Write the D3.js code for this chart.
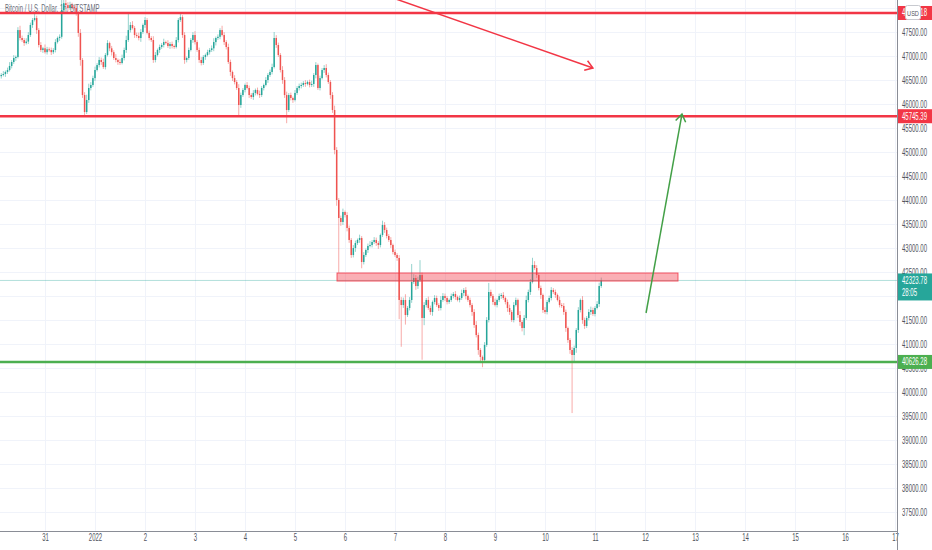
<!DOCTYPE html>
<html>
<head>
<meta charset="utf-8">
<script src="https://cdn.jsdelivr.net/npm/d3@7"></script>
<style>
  body { margin: 0; background: #fff; }
  svg { display: block; }
  .axis text { fill: #50535e; font-family: "Liberation Sans", Arial, sans-serif; }
</style>
</head>
<body>
<svg id="chart" width="932" height="550"></svg>
<script>
// hourly candles, first one at Dec 30 03:00 UTC
const firstCandle = "2021-12-30T03:00:00Z";
const firstOpen = 46580;

// closes, one row per day (24 bars)
const closes = [
  46604,46625,46667,46708,46792,46875,46958,46980,47540,47375,47333,47270, 47300,47437,47646,47750,47790,47540,47229,47125,47160,47080,47140,47125,
  47080,47125,47290,47375,47400,47958,48100,48060,48000,48060,48020,48000, 47900,47480,46917,46187,45833,46083,46333,46396,46540,46708,46812,46917,
  46875,46770,47021,47270,47160,47080,46958,46917,46875,46854,46958,47125, 47333,47540,47646,47583,47437,47417,47375,47500,47646,47750,47480,47375,
  47333,46917,47021,47125,47187,47229,47290,47270,47208,47250,47208,47187, 47333,47750,47810,47437,46917,46958,47125,47333,47437,47290,47125,46917,
  46854,46980,47021,47080,47125,47160,47290,47375,47400,47540,47437,47290, 47187,46875,46667,46540,46458,46333,45979,46187,46292,46396,46333,46187,
  46146,46230,46292,46210,46187,46333,46396,46500,46604,46667,46770,47375, 47229,47021,46708,46500,46187,45875,46187,46125,46083,46230,46333,46375,
  46396,46437,46417,46458,46396,46417,46604,46812,46333,46540,46708,46750, 46604,46458,46187,45875,45042,44000,43625,43542,43750,43687,43417,43167,
  42854,43000,43104,43167,43208,42708,42854,42958,43042,43062,43125,43167, 43104,43062,43271,43479,43375,43250,43167,43062,42917,42854,42792,41917,
  41812,41917,41604,41750,41917,42292,42375,42208,42333,42437,41542,41812, 41917,41750,41667,41875,41958,41812,41750,41917,42000,41958,41875,41917,
  42000,42042,41980,41917,41958,42062,42125,42000,41917,41812,41667,41396, 41187,40875,40730,40667,40980,41500,42083,42000,41875,41812,41917,42000,
  42021,41958,41875,41750,41667,41500,41812,41917,41604,41458,41333,41542, 41917,42083,42292,42646,42583,42437,42167,42021,41708,41667,41875,41958,
  42125,42083,42021,41917,41812,41792,41667,41333,41083,40875,40771,40917, 41292,41708,41917,41500,41375,41542,41667,41708,41625,41750,41833,42208,42324
];

// wick length above the body top and below the body bottom (USD)
const upperWicks = [
  40,60,30,50,80,40,60,30,60,90,50,40, 70,60,50,40,90,50,40,60,30,80,50,40,
  50,40,60,30,50,440,120,80,60,70,50,40, 60,30,80,40,60,110,90,60,50,70,40,60,
  50,70,40,60,30,50,40,80,30,60,70,50, 90,360,60,80,40,50,70,60,30,60,40,50,
  40,80,60,30,50,40,70,30,60,40,50,30, 60,40,90,40,60,30,50,40,60,80,40,50,
  60,40,30,50,40,60,80,30,50,40,90,60, 40,70,50,30,60,40,80,50,40,30,60,50,
  40,60,30,50,70,40,30,60,40,50,70,125, 60,50,40,80,60,70,40,50,30,60,40,50,
  50,40,60,30,50,70,40,60,30,50,40,60, 80,50,40,60,90,60,40,50,70,30,60,50,
  40,60,50,30,70,40,60,30,50,80,40,60, 50,40,30,90,60,50,40,60,30,50,40,60,
  60,50,120,40,60,375,80,60,70,310,50,60, 40,70,50,30,60,50,40,80,60,50,40,30,
  50,40,60,30,50,70,40,60,30,50,40,60, 80,50,40,30,60,60,190,50,40,70,30,50,
  40,60,30,50,70,40,60,50,30,80,40,60, 90,50,60,150,80,60,40,50,30,60,40,50,
  60,40,50,30,70,40,60,50,30,40,60,50, 40,60,30,80,50,40,60,70,50,40,60,70,60
];
const lowerWicks = [
  50,30,60,40,30,50,40,60,30,50,40,60, 30,50,40,60,30,80,50,40,60,30,50,40,
  60,40,50,30,60,40,50,80,60,40,50,30, 60,80,120,60,100,40,60,50,40,60,30,50,
  60,40,50,30,60,70,40,50,60,40,30,50, 60,40,50,30,60,40,50,80,40,60,30,50,
  40,60,50,30,60,40,50,30,40,60,50,40, 30,50,40,60,80,50,40,30,60,50,40,60,
  50,40,60,30,50,40,60,70,40,50,30,60, 50,40,80,60,50,40,250,60,40,50,30,60,
  40,60,50,30,60,40,50,30,60,40,50,30, 60,40,50,80,60,275,40,50,60,30,40,50,
  50,40,60,30,50,40,60,70,40,50,30,60, 50,40,80,60,90,120,1140,80,60,50,70,60,
  60,50,80,40,60,130,50,40,60,30,50,40, 60,80,50,40,60,50,40,60,50,40,60,400,
  870,60,200,40,50,60,40,80,60,40,870,150, 50,40,60,80,50,40,60,50,40,60,50,40,
  40,50,60,30,50,40,60,70,40,50,80,60, 50,100,100,150,60,40,50,40,60,30,50,40,
  60,40,50,80,60,40,50,30,60,80,70,150, 40,50,60,30,40,60,50,80,60,40,50,30,
  50,40,60,30,50,40,60,80,60,80,1210,150, 100,60,50,80,60,40,50,60,40,50,30,60,40
];

const priceTicks = [37500, 38000, 38500, 39000, 39500, 40000, 40500, 41000, 41500, 42000,
                    42500, 43000, 43500, 44000, 44500, 45000, 45500, 46000, 46500, 47000, 47500];
const dayTicks = ["2021-12-31", "2022-01-01", "2022-01-02", "2022-01-03", "2022-01-04", "2022-01-05",
                  "2022-01-06", "2022-01-07", "2022-01-08", "2022-01-09", "2022-01-10", "2022-01-11",
                  "2022-01-12", "2022-01-13", "2022-01-14", "2022-01-15", "2022-01-16", "2022-01-17"];

// drawings
const redLevels = [47896.18, 45745.39];
const greenLevel = 40626.28;
const lastPrice = 42323.78;
const countdown = "28:05";
const zone = { from: "2022-01-05T20:10:00Z", to: "2022-01-12T15:50:00Z", low: 42312, high: 42479 };
const redArrow = [["2022-01-06T17:00:00Z", 48300], ["2022-01-10T23:00:00Z", 46750]];
const greenArrow = [["2022-01-12T00:30:00Z", 41646], ["2022-01-12T17:45:00Z", 45790]];
const title = "Bitcoin / U.S. Dollar, 1h, BITSTAMP";

const UP = "#26a69a", DOWN = "#ef5350", RED = "#f23645", GREEN = "#4caf50";
const SQUEEZE = 0.6; // the screenshot's text is narrow

// build candles
const t0 = new Date(firstCandle).getTime();
const candles = closes.map((c, i) => {
    const o = i === 0 ? firstOpen : closes[i - 1];
    return {
        t: new Date(t0 + i * 3600e3),
        o: o, c: c,
        h: Math.max(o, c) + upperWicks[i],
        l: Math.min(o, c) - lowerWicks[i]
    };
});

const plotW = 897, plotH = 531;
const svg = d3.select("#chart");

const x = d3.scaleUtc()
    .domain([new Date("2021-12-31T00:00:00Z"), new Date("2022-01-17T00:00:00Z")])
    .range([45, 895]);
const y = d3.scaleLinear()
    .domain([37500, 47500])
    .range([512, 32]);

svg.append("defs").append("clipPath").attr("id", "plot")
    .append("rect").attr("width", plotW).attr("height", plotH);

const plot = svg.append("g").attr("clip-path", "url(#plot)");

// grid (one step above the top tick too)
plot.selectAll(".hgrid").data(priceTicks.concat([48000])).enter().append("line")
    .attr("x1", 0).attr("x2", plotW)
    .attr("y1", d => Math.round(y(d)) + 0.5).attr("y2", d => Math.round(y(d)) + 0.5)
    .attr("stroke", "#f0f3fa");
plot.selectAll(".vgrid").data(dayTicks).enter().append("line")
    .attr("x1", d => Math.round(x(new Date(d + "T00:00:00Z"))) + 0.5)
    .attr("x2", d => Math.round(x(new Date(d + "T00:00:00Z"))) + 0.5)
    .attr("y1", 0).attr("y2", plotH)
    .attr("stroke", "#f0f3fa");

// title
plot.append("text")
    .attr("transform", "translate(5,12) scale(" + SQUEEZE + ",1)")
    .style("font-family", "Liberation Sans, Arial, sans-serif")
    .style("font-size", "10px")
    .attr("fill", "#6a6d78")
    .text(title);

// last price line
plot.append("line")
    .attr("x1", 0).attr("x2", plotW)
    .attr("y1", y(lastPrice)).attr("y2", y(lastPrice))
    .attr("stroke", UP).attr("stroke-opacity", 0.35);

// candles
const bars = plot.append("g");
bars.selectAll(".wick").data(candles).enter().append("line")
    .attr("x1", d => x(d.t)).attr("x2", d => x(d.t))
    .attr("y1", d => y(d.h)).attr("y2", d => y(d.l))
    .attr("stroke", d => d.c >= d.o ? UP : DOWN)
    .attr("stroke-opacity", 0.55)
    .attr("stroke-width", 0.9);
bars.selectAll(".body").data(candles).enter().append("rect")
    .attr("x", d => x(d.t) - 0.75)
    .attr("width", 1.5)
    .attr("y", d => y(Math.max(d.o, d.c)))
    .attr("height", d => Math.max(1, Math.abs(y(d.o) - y(d.c))))
    .attr("fill", d => d.c >= d.o ? UP : DOWN);

// horizontal levels
plot.selectAll(".red-level").data(redLevels).enter().append("line")
    .attr("x1", 0).attr("x2", plotW)
    .attr("y1", d => y(d)).attr("y2", d => y(d))
    .attr("stroke", RED).attr("stroke-width", 2.4);
plot.append("line")
    .attr("x1", 0).attr("x2", plotW)
    .attr("y1", y(greenLevel)).attr("y2", y(greenLevel))
    .attr("stroke", GREEN).attr("stroke-width", 2.4);

// resistance zone
plot.append("rect")
    .attr("x", x(new Date(zone.from)))
    .attr("width", x(new Date(zone.to)) - x(new Date(zone.from)))
    .attr("y", y(zone.high))
    .attr("height", y(zone.low) - y(zone.high))
    .attr("fill", RED).attr("fill-opacity", 0.4)
    .attr("stroke", RED).attr("stroke-opacity", 0.8).attr("stroke-width", 1);

// arrows
function drawArrow(pts, color) {
    const x1 = x(new Date(pts[0][0])), y1 = y(pts[0][1]);
    const x2 = x(new Date(pts[1][0])), y2 = y(pts[1][1]);
    plot.append("line")
        .attr("x1", x1).attr("y1", y1).attr("x2", x2).attr("y2", y2)
        .attr("stroke", color).attr("stroke-width", 1.5);
    const a = Math.atan2(y2 - y1, x2 - x1);
    const len = 9, spread = 0.6;
    plot.append("path")
        .attr("d", "M" + (x2 - len * Math.cos(a - spread)) + "," + (y2 - len * Math.sin(a - spread)) +
                   "L" + x2 + "," + y2 +
                   "L" + (x2 - len * Math.cos(a + spread)) + "," + (y2 - len * Math.sin(a + spread)))
        .attr("fill", "none").attr("stroke", color).attr("stroke-width", 1.5);
}
drawArrow(redArrow, RED);
drawArrow(greenArrow, "#43a047");

// axes
const yAxis = svg.append("g")
    .attr("class", "axis")
    .attr("transform", "translate(" + plotW + ",0)")
    .call(d3.axisRight(y).tickValues(priceTicks).tickSize(0).tickFormat(d3.format(".2f")));
yAxis.select(".domain").remove();
yAxis.selectAll("text")
    .attr("x", 0).attr("dy", null)
    .attr("transform", "translate(5,3.5) scale(" + SQUEEZE + ",1)")
    .style("font-size", "10px");

const xAxis = svg.append("g")
    .attr("class", "axis")
    .attr("transform", "translate(0," + plotH + ")")
    .call(d3.axisBottom(x)
        .tickValues(dayTicks.map(d => new Date(d + "T00:00:00Z")))
        .tickSize(0)
        .tickFormat(d => (d.getUTCMonth() === 0 && d.getUTCDate() === 1) ? "2022" : String(d.getUTCDate())));
xAxis.select(".domain").remove();
xAxis.selectAll("text")
    .attr("y", 0).attr("dy", null)
    .attr("transform", "translate(0,10) scale(" + SQUEEZE + ",1)")
    .style("font-size", "10px");

// axis lines
svg.append("line").attr("x1", plotW + 0.5).attr("x2", plotW + 0.5).attr("y1", 0).attr("y2", 550)
    .attr("stroke", "#8a8d96");
svg.append("line").attr("x1", 0).attr("x2", plotW).attr("y1", plotH + 0.5).attr("y2", plotH + 0.5)
    .attr("stroke", "#8a8d96");

// price badges on the axis
function badge(price, color, label, h) {
    const cy = y(price);
    const g = svg.append("g");
    g.append("rect")
        .attr("x", plotW + 1).attr("y", cy - 7).attr("width", 932 - plotW).attr("height", h)
        .attr("fill", color);
    label.forEach((s, k) => {
        g.append("text")
            .attr("transform", "translate(" + (plotW + 5) + "," + (cy + 3.5 + k * 12) + ") scale(" + SQUEEZE + ",1)")
            .style("font-family", "Liberation Sans, Arial, sans-serif")
            .style("font-size", "10px")
            .attr("fill", "#fff")
            .text(s);
    });
}
badge(redLevels[0], RED, [redLevels[0].toFixed(2)], 14);
badge(redLevels[1], RED, [redLevels[1].toFixed(2)], 14);
badge(lastPrice, UP, [lastPrice.toFixed(2), countdown], 27);
badge(greenLevel, GREEN, [greenLevel.toFixed(2)], 14);

// currency box
svg.append("rect")
    .attr("x", 905.5).attr("y", 5.5).attr("width", 15).attr("height", 14).attr("rx", 2)
    .attr("fill", "#fff").attr("stroke", "#c8cad0");
svg.append("text")
    .attr("transform", "translate(913,15.5) scale(0.7,1)")
    .attr("text-anchor", "middle")
    .style("font-family", "Liberation Sans, Arial, sans-serif")
    .style("font-size", "8px")
    .attr("fill", "#50535e")
    .text("USD");
</script>
</body>
</html>
